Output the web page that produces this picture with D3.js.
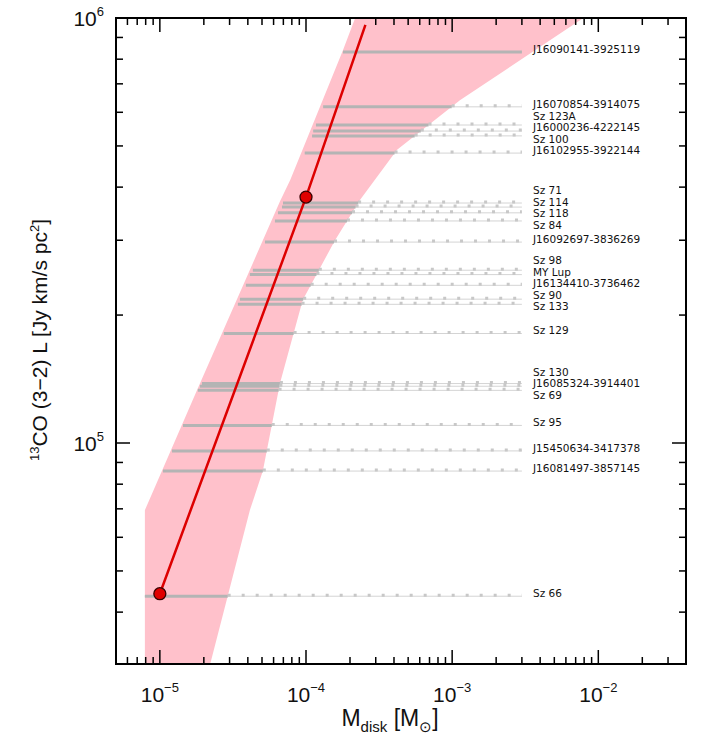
<!DOCTYPE html>
<html><head><meta charset="utf-8">
<script src="https://cdn.jsdelivr.net/npm/d3@7"></script>
<style>body{margin:0;background:#fff}</style>
</head><body>
<svg id="chart" width="710" height="738"></svg>
<script>
'use strict';

// ── Data ────────────────────────────────────────────────────────────────
const sourceNames = ['J16090141-3925119','J16070854-3914075','Sz 123A','J16000236-4222145','Sz 100',
  'J16102955-3922144','Sz 71','Sz 114','Sz 118','Sz 84','J16092697-3836269','Sz 98','MY Lup',
  'J16134410-3736462','Sz 90','Sz 133','Sz 129','Sz 130','J16085324-3914401','Sz 69','Sz 95',
  'J15450634-3417378','J16081497-3857145','Sz 66'];
const sourceL = [8.32e5,6.18e5,5.60e5,5.42e5,5.28e5,4.81e5,3.67e5,3.59e5,3.48e5,3.33e5,2.97e5,
  2.55e5,2.49e5,2.35e5,2.18e5,2.12e5,1.81e5,1.38e5,1.36e5,1.33e5,1.10e5,9.58e4,8.59e4,4.36e4];
const sourceMmin = [1.79e-4,1.31e-4,1.17e-4,1.12e-4,1.10e-4,9.8e-5,6.96e-5,6.85e-5,6.43e-5,6.13e-5,
  5.24e-5,4.33e-5,4.13e-5,3.88e-5,3.53e-5,3.42e-5,2.74e-5,1.94e-5,1.88e-5,1.82e-5,1.44e-5,1.21e-5,1.05e-5,7.9e-6];
const limitMmax = 3e-3;

const modelM = [1e-5, 1e-4, 2.55e-4];
const modelL = [4.42e4, 3.79e5, 9.63e5];
const pointM = [1e-5, 1e-4];
const pointL = [4.42e4, 3.79e5];

// band: right (upper-mass) edge bottom→top, left edge top→bottom
const bandUpperM = [2.2e-5,3.37e-5,4.13e-5,5.07e-5,6.63e-5,9.5e-5,1.58e-4,2.34e-4,4.2e-4,1.13e-3,7.9e-3];
const bandUpperL = [3.0e4,5.3e4,6.95e4,8.6e4,1.38e5,2.17e5,3.0e5,3.73e5,4.9e5,6.4e5,1e6];
const bandLowerM = [2.17e-4,1.79e-4,7.8e-5,6.63e-5,1.88e-5,7.9e-6,7.9e-6];
const bandLowerL = [1e6,8.4e5,4.16e5,3.7e5,1.38e5,6.95e4,3.0e4];

const xTicks = [1e-5,1e-4,1e-3,1e-2];
const xTickLabels = ['-5','-4','-3','-2'];
const yTicks = [1e5,1e6];
const yTickLabels = ['5','6'];

// ── Layout ──────────────────────────────────────────────────────────────
const L = 116, R = 686, T = 18, B = 664;
const svg = d3.select('#chart');
const x = d3.scaleLog().domain([10**-5.3, 10**-1.4]).range([L, R]);
const y = d3.scaleLog().domain([3.02e4, 1e6]).range([B, T]);

svg.append('defs').append('clipPath').attr('id','clip')
  .append('rect').attr('x',L).attr('y',T).attr('width',R-L).attr('height',B-T);
const plot = svg.append('g').attr('clip-path','url(#clip)');

// ── Band ────────────────────────────────────────────────────────────────
const bandPts = bandUpperM.map((m,i)=>[x(m),y(bandUpperL[i])])
  .concat(bandLowerM.map((m,i)=>[x(m),y(bandLowerL[i])]));
plot.append('path').attr('d', d3.line()(bandPts) + 'Z').attr('fill','#ffc1cb');

// x of band upper edge at a given luminosity (in log space)
function bandEdgeX(l) {
  for (let i = 0; i < bandUpperL.length-1; i++) {
    if (l >= bandUpperL[i] && l <= bandUpperL[i+1]) {
      const t = (Math.log(l)-Math.log(bandUpperL[i]))/(Math.log(bandUpperL[i+1])-Math.log(bandUpperL[i]));
      return x(bandUpperM[i]) + t*(x(bandUpperM[i+1])-x(bandUpperM[i]));
    }
  }
  return x(limitMmax);
}

// ── Sources (lower limits) ──────────────────────────────────────────────
sourceNames.forEach((n,i) => {
  const yy = y(sourceL[i]), x0 = x(sourceMmin[i]), x1 = x(limitMmax);
  const xe = Math.min(bandEdgeX(sourceL[i]), x1);
  plot.append('line').attr('x1',x0).attr('x2',x1).attr('y1',yy).attr('y2',yy)
    .attr('stroke','#d4d4d4').attr('stroke-width',1);
  plot.append('line').attr('x1',xe).attr('x2',x1).attr('y1',yy-1).attr('y2',yy-1)
    .attr('stroke','#c8c8c8').attr('stroke-width',3).attr('stroke-dasharray','3,11');
  plot.append('line').attr('x1',x0).attr('x2',xe).attr('y1',yy).attr('y2',yy)
    .attr('stroke','#b4b4b4').attr('stroke-width',3);
});

// labels, spread apart so they do not overlap
const labY = sourceL.map(l => y(l) - 3);
for (let it = 0; it < 200; it++) {
  for (let i = 0; i < labY.length-1; i++) {
    const gap = labY[i+1] - labY[i];
    if (gap < 11.5) { const d = (11.5-gap)/2; labY[i] -= d; labY[i+1] += d; }
  }
}
sourceNames.forEach((n,i) => {
  svg.append('text').attr('x',533).attr('y',labY[i]).attr('dy','0.35em')
    .attr('font-family','DejaVu Sans, sans-serif').attr('font-size',10.5).attr('fill','#111').text(n);
});

// ── Model ───────────────────────────────────────────────────────────────
plot.append('path')
  .attr('d', d3.line().x((m)=>x(m)).y((m,i)=>y(modelL[i]))(modelM))
  .attr('fill','none').attr('stroke','#dd0000').attr('stroke-width',2.5);
pointM.forEach((m,i) => {
  svg.append('circle').attr('cx',x(m)).attr('cy',y(pointL[i])).attr('r',6)
    .attr('fill','#e00000').attr('stroke','#3a0000').attr('stroke-width',1.3);
});

// ── Axes ────────────────────────────────────────────────────────────────
const ax = svg.append('g').attr('stroke','#000');
ax.append('rect').attr('x',L).attr('y',T).attr('width',R-L).attr('height',B-T)
  .attr('fill','none').attr('stroke-width',2);
const xMinor = [];
for (let e = -6; e <= -1; e++) for (let k = 1; k < 10; k++) {
  const v = k*10**e; if (v >= x.domain()[0] && v <= x.domain()[1]) xMinor.push([v, k===1]);
}
xMinor.forEach(([v,maj]) => {
  const len = maj ? 14 : 7;
  ax.append('line').attr('x1',x(v)).attr('x2',x(v)).attr('y1',B).attr('y2',B-len).attr('stroke-width',1.5);
  ax.append('line').attr('x1',x(v)).attr('x2',x(v)).attr('y1',T).attr('y2',T+len).attr('stroke-width',1.5);
});
const yMinor = [];
for (let e = 4; e <= 6; e++) for (let k = 1; k < 10; k++) {
  const v = k*10**e; if (v >= y.domain()[0] && v <= y.domain()[1]) yMinor.push([v, k===1]);
}
yMinor.forEach(([v,maj]) => {
  const len = maj ? 14 : 7;
  ax.append('line').attr('y1',y(v)).attr('y2',y(v)).attr('x1',L).attr('x2',L+len).attr('stroke-width',1.5);
  ax.append('line').attr('y1',y(v)).attr('y2',y(v)).attr('x1',R).attr('x2',R-len).attr('stroke-width',1.5);
});

const font = 'Liberation Sans, Arial, sans-serif';
xTicks.forEach((v,i) => {
  const t = svg.append('text').attr('x',x(v)).attr('y',B+38).attr('text-anchor','middle')
    .attr('font-family',font).attr('font-size',21).attr('fill','#111');
  t.append('tspan').text('10');
  t.append('tspan').attr('dy',-10).attr('font-size',13).text(xTickLabels[i].replace('-','\u2212'));
});
yTicks.forEach((v,i) => {
  const t = svg.append('text').attr('x',L-12).attr('y',y(v)+8).attr('text-anchor','end')
    .attr('font-family',font).attr('font-size',21).attr('fill','#111');
  t.append('tspan').text('10');
  t.append('tspan').attr('dy',-10).attr('font-size',13).text(yTickLabels[i]);
});

// axis titles
const xt = svg.append('text').attr('x',390).attr('y',726).attr('text-anchor','middle')
  .attr('font-family',font).attr('font-size',23).attr('fill','#111');
xt.append('tspan').text('M');
xt.append('tspan').attr('dy',6).attr('font-size',15).text('disk');
xt.append('tspan').attr('dy',-6).text(' [M');
xt.append('tspan').attr('dy',6).attr('font-size',15).text('\u2299');
xt.append('tspan').attr('dy',-6).text(']');

const yt = svg.append('text').attr('transform','translate(47,340) rotate(-90)').attr('text-anchor','middle')
  .attr('font-family',font).attr('font-size',21).attr('fill','#111');
yt.append('tspan').attr('dy',-8).attr('font-size',13).text('13');
yt.append('tspan').attr('dy',8).text('CO (3\u22122) L [Jy km/s pc');
yt.append('tspan').attr('dy',-8).attr('font-size',13).text('2');
yt.append('tspan').attr('dy',8).text(']');
</script>
</body></html>
